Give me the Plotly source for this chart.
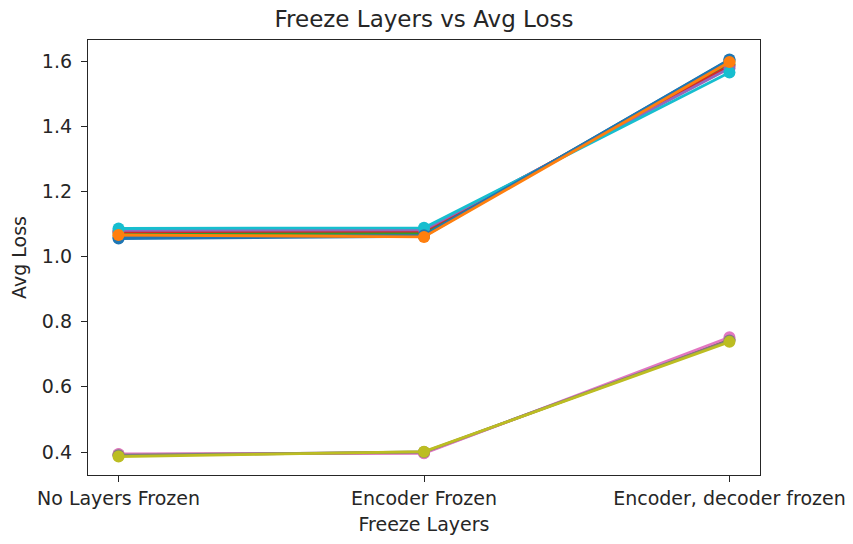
import plotly.graph_objects as go

# Freeze settings on the x axis
freeze_layers = ["No Layers Frozen", "Encoder Frozen", "Encoder, decoder frozen"]

# Average loss per run (one list per run)
run_0 = [1.055, 1.062, 1.605]
run_1 = [1.065, 1.068, 1.598]
run_2 = [1.072, 1.072, 1.590]
run_3 = [1.076, 1.078, 1.585]
run_4 = [1.080, 1.082, 1.578]
run_5 = [0.392, 0.398, 0.745]
run_6 = [0.394, 0.396, 0.752]
run_7 = [0.390, 0.400, 0.742]
run_8 = [0.386, 0.401, 0.738]
run_9 = [1.086, 1.088, 1.565]
run_10 = [1.058, 1.065, 1.603]
run_11 = [1.066, 1.060, 1.597]

runs = [run_0, run_1, run_2, run_3, run_4, run_5, run_6, run_7, run_8, run_9,
        run_10, run_11]
palette = ["#1f77b4", "#ff7f0e", "#2ca02c", "#d62728", "#9467bd",
           "#8c564b", "#e377c2", "#7f7f7f", "#bcbd22", "#17becf"]

fig = go.Figure()
for i, vals in enumerate(runs):
    c = palette[i % len(palette)]
    fig.add_trace(go.Scatter(
        x=[0, 1, 2], y=vals, mode="lines+markers",
        line=dict(color=c, width=2.8),
        marker=dict(color=c, size=12, line=dict(width=0)),
        showlegend=False, cliponaxis=False,
    ))

FONT = "DejaVu Sans"
axis_common = dict(
    showline=True, linecolor="#262626", linewidth=1.3, mirror=True,
    ticks="outside", ticklen=6, tickcolor="#262626", tickwidth=1.3,
    showgrid=False, zeroline=False, automargin=False,
    tickfont=dict(family=FONT, size=19, color="#262626"),
)

fig.update_layout(
    width=853, height=544,
    margin=dict(l=88, r=93, t=40, b=69),
    paper_bgcolor="white", plot_bgcolor="white",
    title=dict(text="Freeze Layers vs Avg Loss", x=0.5, xanchor="center",
               xref="paper", automargin=False,
               y=1 - 19 / 544, yanchor="middle",
               font=dict(family=FONT, size=23, color="#262626")),
    xaxis=dict(axis_common, range=[-0.1, 2.1],
               tickmode="array", tickvals=[0, 1, 2], ticktext=freeze_layers,
               title=dict(text="Freeze Layers", standoff=9,
                          font=dict(family=FONT, size=19, color="#262626"))),
    yaxis=dict(axis_common, range=[0.3294, 1.6645],
               ticklabelstandoff=5,
               tickmode="array", tickvals=[0.4, 0.6, 0.8, 1.0, 1.2, 1.4, 1.6],
               ticktext=["0.4", "0.6", "0.8", "1.0", "1.2", "1.4", "1.6"],
               title=dict(text="Avg Loss", standoff=10,
                          font=dict(family=FONT, size=19, color="#262626"))),
)

fig.write_html("out.html")
